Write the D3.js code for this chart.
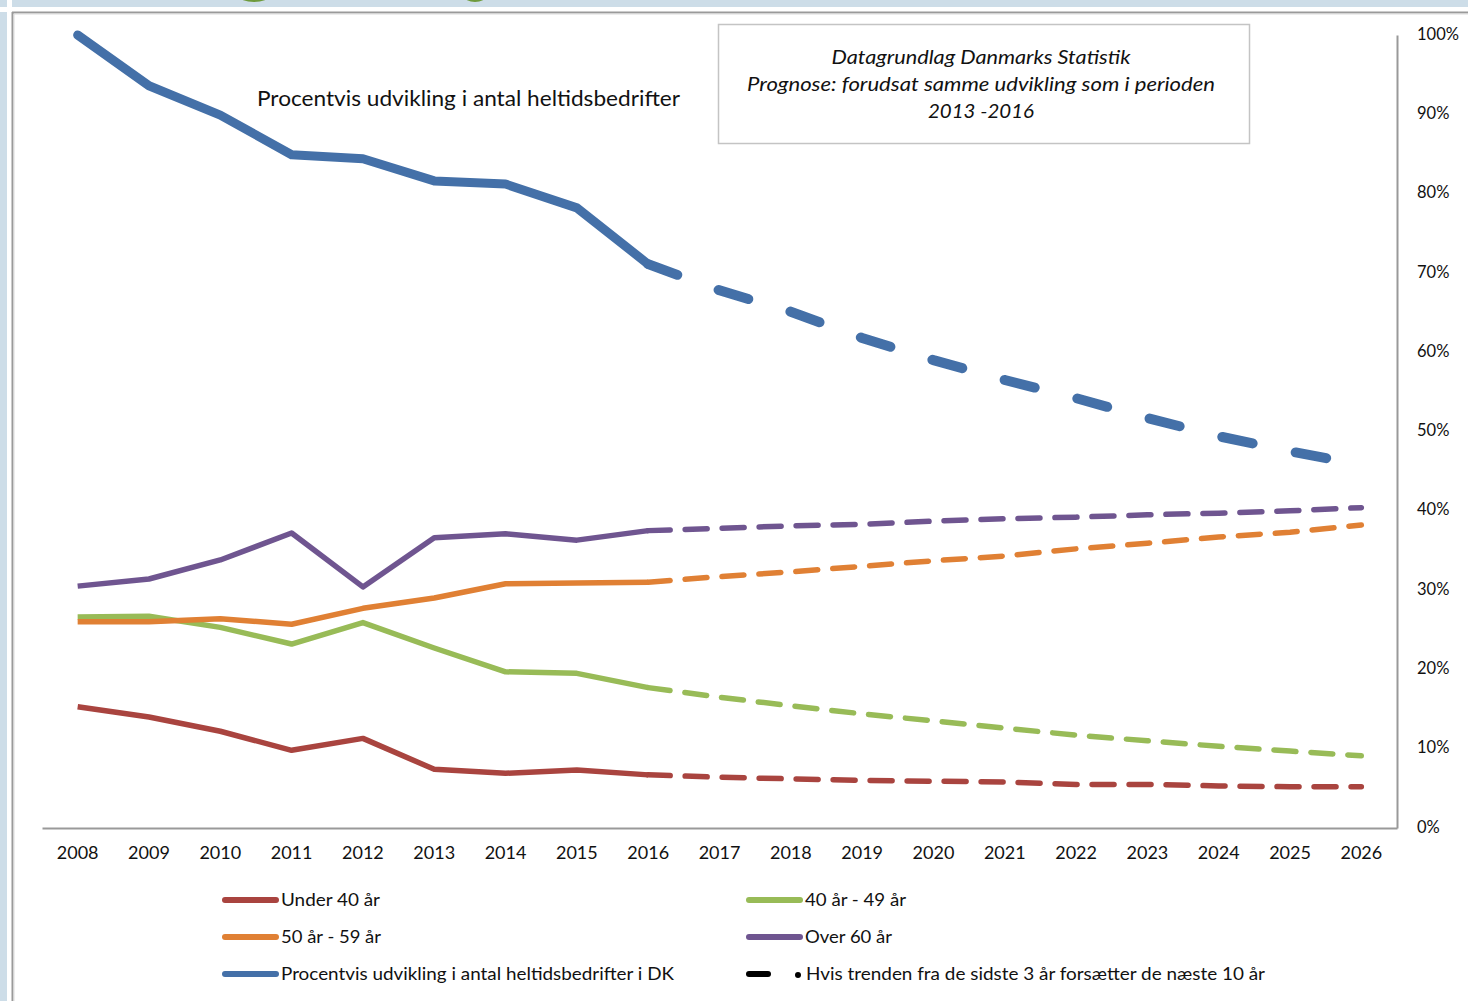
<!DOCTYPE html>
<html>
<head>
<meta charset="utf-8">
<script src="https://cdn.jsdelivr.net/npm/d3@7"></script>
<style>
  html, body { margin: 0; padding: 0; background: #cddde8; }
  svg { display: block; }
  text { font-family: Lato, "Open Sans", sans-serif; fill: #111; }
</style>
</head>
<body>
<svg id="chart" width="1468" height="1001"></svg>
<script>
// ---------- DATA ----------
const years = ["2008","2009","2010","2011","2012","2013","2014","2015","2016","2017","2018","2019","2020","2021","2022","2023","2024","2025","2026"];
const lastActualIndex = 8; // 2016: after this the values are a forecast
const yTicks = [0, 0.1, 0.2, 0.3, 0.4, 0.5, 0.6, 0.7, 0.8, 0.9, 1.0];

const under40 = [15.3, 14.0, 12.2, 9.8, 11.3, 7.4, 6.9, 7.3, 6.7, 6.4, 6.2, 6.0, 5.9, 5.8, 5.5, 5.5, 5.3, 5.2, 5.2];
const age40to49 = [26.6, 26.7, 25.3, 23.2, 25.9, 22.7, 19.7, 19.5, 17.7, 16.5, 15.4, 14.4, 13.5, 12.6, 11.7, 11.0, 10.3, 9.7, 9.1];
const age50to59 = [26.0, 26.0, 26.4, 25.7, 27.7, 29.0, 30.8, 30.9, 31.0, 31.7, 32.3, 33.0, 33.7, 34.3, 35.2, 35.9, 36.7, 37.3, 38.2];
const over60 = [30.5, 31.4, 33.8, 37.2, 30.4, 36.6, 37.1, 36.3, 37.5, 37.8, 38.1, 38.3, 38.7, 39.0, 39.2, 39.5, 39.7, 40.0, 40.4];
const totalDK = [100, 93.6, 89.9, 84.9, 84.4, 81.6, 81.2, 78.2, 71.1, 67.8, 65.1, 61.8, 59.0, 56.5, 54.2, 51.7, 49.4, 47.5, 45.8];

const seriesNames = ["Under 40 år", "40 år - 49 år", "50 år - 59 år", "Over 60 år", "Procentvis udvikling i antal heltidsbedrifter i DK"];
const forecastLabel = "Hvis trenden fra de sidste 3 år forsætter de næste 10 år";
const titleText = "Procentvis  udvikling  i antal  heltidsbedrifter";
const noteLines = ["Datagrundlag Danmarks Statistik", "Prognose: forudsat samme udvikling som i perioden", "2013 -2016"];

// ---------- SETUP ----------
const svg = d3.select("#chart");
const W = 1468, H = 1001;

// panel background
svg.append("rect").attr("x", 0).attr("y", 0).attr("width", W).attr("height", H).attr("fill", "#cddde8");
svg.append("rect").attr("x", 7).attr("y", 7).attr("width", W - 7).attr("height", H - 7).attr("fill", "#ffffff");
// green remnants of heading above
svg.append("ellipse").attr("cx", 254).attr("cy", -4).attr("rx", 15).attr("ry", 6).attr("fill", "#6e9a3c");
svg.append("ellipse").attr("cx", 475).attr("cy", -4).attr("rx", 11).attr("ry", 6).attr("fill", "#6e9a3c");
svg.append("rect").attr("x", 0).attr("y", 7).attr("width", W).attr("height", 5).attr("fill", "#ffffff");
svg.append("rect").attr("x", 7).attr("y", 0).attr("width", 5).attr("height", H).attr("fill", "#ffffff");
// frame lines
svg.append("line").attr("x1", 12).attr("x2", W).attr("y1", 12.5).attr("y2", 12.5).attr("stroke", "#9a9a9a").attr("stroke-width", 2);
svg.append("line").attr("x1", 12.5).attr("x2", 12.5).attr("y1", 12).attr("y2", H).attr("stroke", "#9a9a9a").attr("stroke-width", 2);
svg.append("line").attr("x1", 14).attr("x2", W).attr("y1", 14).attr("y2", 14).attr("stroke", "#dcdcdc").attr("stroke-width", 1);
svg.append("line").attr("x1", 14).attr("x2", 14).attr("y1", 14).attr("y2", H).attr("stroke", "#dcdcdc").attr("stroke-width", 1);

// ---------- SCALES ----------
const x = d3.scaleBand().domain(years).range([42, 1397]).padding(0);
const cx = d => x(d) + x.bandwidth() / 2;
const y = d3.scaleLinear().domain([0, 1]).range([828, 35]);

// ---------- AXES ----------
const xAxis = d3.axisBottom(x).tickSize(0).tickSizeOuter(0).tickPadding(18);
const gx = svg.append("g").attr("transform", "translate(0,828)").call(xAxis);
gx.select(".domain").attr("stroke", "#999").attr("stroke-width", 2);
gx.selectAll("text").style("font-family", "Lato, sans-serif").style("font-size", "18px").attr("fill", "#111");

const yAxis = d3.axisRight(y).tickValues(yTicks).tickSize(0).tickSizeOuter(0).tickPadding(20).tickFormat(d3.format(".0%"));
const gy = svg.append("g").attr("transform", "translate(1397,0)").call(yAxis);
gy.select(".domain").attr("stroke", "#999").attr("stroke-width", 2);
gy.selectAll("text").style("font-family", "Lato, sans-serif").style("font-size", "16.5px").attr("fill", "#111").attr("dy", "0.25em");

// ---------- LINES ----------
const series = [
  { name: seriesNames[0], values: under40, color: "#A9443F", width: 5.5 },
  { name: seriesNames[1], values: age40to49, color: "#98BB57", width: 5.5 },
  { name: seriesNames[2], values: age50to59, color: "#E08034", width: 5.5 },
  { name: seriesNames[3], values: over60, color: "#6F5590", width: 5.5 },
  { name: seriesNames[4], values: totalDK, color: "#4470A8", width: 9 }
];

const line = d3.line().x(d => cx(d.year)).y(d => y(d.v / 100));

series.forEach((s, si) => {
  const pts = s.values.map((v, i) => ({ year: years[i], v }));
  const actual = pts.slice(0, lastActualIndex + 1);
  const forecast = pts.slice(lastActualIndex);
  const isTotal = si === 4;
  svg.append("path").datum(forecast).attr("d", line)
    .attr("fill", "none").attr("stroke", s.color)
    .attr("stroke-width", isTotal ? 10 : 5.5)
    .attr("stroke-linecap", "round")
    .attr("stroke-dasharray", isTotal ? "31,44" : "22,15");
  svg.append("path").datum(actual).attr("d", line)
    .attr("fill", "none").attr("stroke", s.color)
    .attr("stroke-width", s.width)
    .attr("stroke-linejoin", "round")
    .attr("stroke-linecap", isTotal ? "round" : "butt");
});

// ---------- TEXTS ----------
svg.append("text").attr("x", 257).attr("y", 106)
  .attr("textLength", 423).attr("lengthAdjust", "spacingAndGlyphs")
  .style("font-size", "21px").text(titleText);

svg.append("rect").attr("x", 718.5).attr("y", 24.5).attr("width", 531).attr("height", 119)
  .attr("fill", "#fff").attr("stroke", "#c4c4c4").attr("stroke-width", 1.5);
const noteWidths = [299, 468, 106];
noteLines.forEach((t, i) => {
  svg.append("text").attr("x", 981).attr("y", 64 + i * 27).attr("text-anchor", "middle")
    .attr("textLength", noteWidths[i]).attr("lengthAdjust", "spacingAndGlyphs")
    .style("font-size", "18.5px").style("font-style", "italic").text(t);
});

// ---------- LEGEND ----------
const legendItems = [
  { s: series[0], x: 222, y: 899, w: 99 },
  { s: series[1], x: 746, y: 899, w: 101 },
  { s: series[2], x: 222, y: 936, w: 100 },
  { s: series[3], x: 746, y: 936, w: 87 },
  { s: series[4], x: 222, y: 973, w: 393 }
];
legendItems.forEach(it => {
  svg.append("line").attr("x1", it.x + 3).attr("x2", it.x + 54).attr("y1", it.y + 1).attr("y2", it.y + 1)
    .attr("stroke", it.s.color).attr("stroke-width", 6).attr("stroke-linecap", "round");
  svg.append("text").attr("x", it.x + 59).attr("y", it.y + 7)
    .attr("textLength", it.w).attr("lengthAdjust", "spacingAndGlyphs")
    .style("font-size", "18px").text(it.s.name);
});
svg.append("line").attr("x1", 749).attr("x2", 768).attr("y1", 974).attr("y2", 974)
  .attr("stroke", "#000").attr("stroke-width", 6).attr("stroke-linecap", "round");
svg.append("circle").attr("cx", 798).attr("cy", 975).attr("r", 3).attr("fill", "#000");
svg.append("text").attr("x", 806).attr("y", 980)
  .attr("textLength", 459).attr("lengthAdjust", "spacingAndGlyphs")
  .style("font-size", "18px").text(forecastLabel);
</script>
</body>
</html>
